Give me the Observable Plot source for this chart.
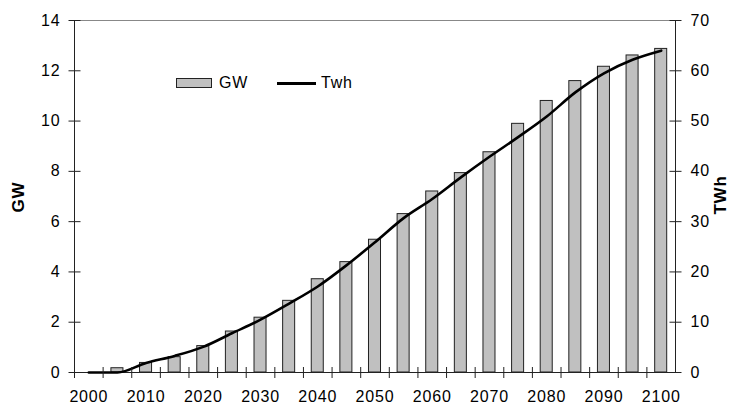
<!DOCTYPE html>
<html>
<head>
<meta charset="utf-8">
<script src="https://cdn.jsdelivr.net/npm/d3@7"></script>
<script src="https://cdn.jsdelivr.net/npm/@observablehq/plot@0.6"></script>
<style>
  html, body { margin: 0; padding: 0; background: #fff; }
  #wrap { position: relative; width: 734px; height: 405px; font-family: "Liberation Sans", Arial, sans-serif; }
  #legend { position: absolute; left: 0; top: 0; width: 734px; height: 405px; pointer-events: none; font-size: 16px; letter-spacing: 0.8px; color: #000; }
  .sw-bar { position: absolute; left: 176px; top: 78px; width: 34px; height: 8px; background: #c0c0c0; border: 1px solid #222; }
  .sw-line { position: absolute; left: 277px; top: 81.5px; width: 39px; height: 3px; background: #000; }
  .lg-txt { position: absolute; top: 73px; line-height: 20px; }
  .ax-title { position: absolute; font-weight: bold; font-size: 17px; line-height: 20px; white-space: nowrap; transform: translate(-50%, -50%) rotate(-90deg); }
</style>
</head>
<body>
<div id="wrap">
  <div id="chart"></div>
  <div id="legend"></div>
</div>
<script>
const years = [2000, 2005, 2010, 2015, 2020, 2025, 2030, 2035, 2040, 2045, 2050,
               2055, 2060, 2065, 2070, 2075, 2080, 2085, 2090, 2095, 2100];
const gw = [0, 0.17, 0.38, 0.61, 1.05, 1.63, 2.18, 2.85, 3.71, 4.39, 5.28,
            6.30, 7.20, 7.93, 8.76, 9.89, 10.80, 11.59, 12.16, 12.61, 12.87];
const twh = [0, 0, 1.9, 3.3, 5.1, 7.8, 10.5, 13.7, 17.1, 21.3, 25.9,
             30.7, 34.5, 38.8, 42.9, 46.8, 50.9, 55.7, 59.5, 62.2, 64.0];
const gwTicks = [0, 2, 4, 6, 8, 10, 12, 14];
const xLabels = [2000, 2010, 2020, 2030, 2040, 2050, 2060, 2070, 2080, 2090, 2100];
const leftTitle = "GW";
const rightTitle = "TWh";
const legendBar = "GW";
const legendLine = "Twh";
const ratio = 5; // TWh axis max 70 vs GW axis max 14

const data = years.map((y, i) => ({year: y, gw: gw[i], twh: twh[i]}));

const W = 734, H = 405;
const mL = 74, mR = 59, mT = 20, mB = 33;
const step = (W - mL - mR) / years.length;
const axisColor = "#222";

// small tick symbols (crossing the axis)
const hTick = {draw(ctx) { ctx.moveTo(-6, 0); ctx.lineTo(6, 0); }};
const vTick = {draw(ctx) { ctx.moveTo(0, -5.5); ctx.lineTo(0, 5.5); }};

const chart = Plot.plot({
  width: W,
  height: H,
  marginLeft: mL,
  marginRight: mR,
  marginTop: mT,
  marginBottom: mB,
  style: {fontFamily: "'Liberation Sans', Arial, sans-serif", fontSize: "16px", color: "#000", background: "#fff", letterSpacing: "0.8px"},
  x: {type: "band", domain: years, paddingInner: 0.58, paddingOuter: 0.29, round: false, label: null},
  y: {domain: [0, 14], label: null},
  marks: [
    Plot.frame({stroke: axisColor, strokeWidth: 1}),
    Plot.ruleY([14], {stroke: "#888", strokeWidth: 1.2}),
    Plot.barY(data, {x: "year", y: "gw", fill: "#c0c0c0", stroke: "#222", strokeWidth: 1}),
    Plot.line(data, {x: "year", y: d => d.twh / ratio, stroke: "#000", strokeWidth: 2.6, curve: "monotone-x"}),
    // tick labels
    Plot.axisY({anchor: "left", ticks: gwTicks, tickSize: 6, tickPadding: 8, stroke: "none", label: null}),
    Plot.axisY({anchor: "right", ticks: gwTicks, tickSize: 6, tickPadding: 9, tickFormat: d => d * ratio, stroke: "none", label: null}),
    Plot.axisX({anchor: "bottom", ticks: xLabels, tickSize: 0, tickPadding: 18, tickFormat: d => String(d), stroke: "none", label: null}),
    // tick marks crossing the axes
    Plot.dot(gwTicks, {y: d => d, frameAnchor: "left", symbol: hTick, stroke: axisColor, strokeWidth: 1, fill: "none"}),
    Plot.dot(gwTicks, {y: d => d, frameAnchor: "right", symbol: hTick, stroke: axisColor, strokeWidth: 1, fill: "none"}),
    Plot.dot(years, {x: d => d, dx: -step / 2, frameAnchor: "bottom", symbol: vTick, stroke: axisColor, strokeWidth: 1, fill: "none"})
  ]
});
document.getElementById("chart").appendChild(chart);

const lg = document.getElementById("legend");
lg.innerHTML =
  `<div class="sw-bar"></div><div class="lg-txt" style="left:219px">${legendBar}</div>` +
  `<div class="sw-line"></div><div class="lg-txt" style="left:321px">${legendLine}</div>` +
  `<div class="ax-title" style="left:19px;top:197px">${leftTitle}</div>` +
  `<div class="ax-title" style="left:721px;top:195px">${rightTitle}</div>`;
</script>
</body>
</html>
